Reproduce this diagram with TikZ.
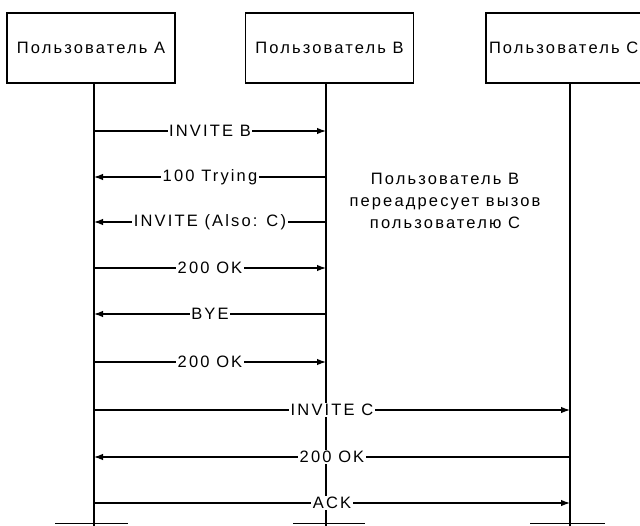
\documentclass[tikz,border=0pt]{standalone}
\usepackage{fontspec}
\setmainfont{Liberation Sans}
\newfontfamily\lblfont[LetterSpace=13]{Liberation Sans}
\usetikzlibrary{arrows.meta}
\begin{document}
\begin{tikzpicture}[x=1pt,y=-1pt,
  font=\lblfont\fontsize{16.5}{22}\selectfont,
  actor/.style={draw, line width=1.3pt, minimum width=168pt, minimum height=70pt, inner sep=0pt},
  life/.style={line width=1.3pt},
  msg/.style={line width=1.2pt, -{Latex[length=9pt,width=6.5pt]}},
  mlabel/.style={fill=white, inner sep=1.5pt},
  stub/.style={line width=1.3pt}]
\useasboundingbox (0,0) rectangle (640,525);
\clip (0,0) rectangle (640,525);
\fill[white] (0,0) rectangle (640,525);

\node[actor] (A) at (91,48) {Пользователь A};
\node[actor] (B) at (329.5,48) {Пользователь B};
\node[actor] (C) at (570,48) {\makebox[162pt][l]{Пользователь C}};

\coordinate (At) at (94,83);  \coordinate (Ab) at (94,526);
\coordinate (Bt) at (326,83); \coordinate (Bb) at (326,526);
\coordinate (Ct) at (570,83); \coordinate (Cb) at (570,526);
\draw[life] (At) -- (Ab);
\draw[life] (Bt) -- (Bb);
\draw[life] (Ct) -- (Cb);

\node[align=center] (note) at (445,201) {Пользователь B\\переадресует вызов\\пользователю C};

\coordinate (a1) at (94,131); \coordinate (b1) at (326,131);
\coordinate (a2) at (94,177); \coordinate (b2) at (326,177);
\coordinate (a3) at (94,222); \coordinate (b3) at (326,222);
\coordinate (a4) at (94,268); \coordinate (b4) at (326,268);
\coordinate (a5) at (94,314); \coordinate (b5) at (326,314);
\coordinate (a6) at (94,362); \coordinate (b6) at (326,362);
\coordinate (a7) at (94,410); \coordinate (c7) at (570,410);
\coordinate (a8) at (94,457); \coordinate (c8) at (570,457);
\coordinate (a9) at (94,503); \coordinate (c9) at (570,503);

\draw[msg] (a1) -- node[mlabel] (l1) {INVITE B} (b1);
\draw[msg] (b2) -- node[mlabel] (l2) {100 Trying} (a2);
\draw[msg] (b3) -- node[mlabel] (l3) {INVITE (Also: C)} (a3);
\draw[msg] (a4) -- node[mlabel] (l4) {200 OK} (b4);
\draw[msg] (b5) -- node[mlabel] (l5) {BYE} (a5);
\draw[msg] (a6) -- node[mlabel] (l6) {200 OK} (b6);
\draw[msg] (a7) -- node[mlabel] (l7) {INVITE C} (c7);
\draw[msg] (c8) -- node[mlabel] (l8) {200 OK} (a8);
\draw[msg] (a9) -- node[mlabel] (l9) {ACK} (c9);

\coordinate (sa1) at (55,523.5);  \coordinate (sa2) at (128,523.5);
\coordinate (sb1) at (293,523.5); \coordinate (sb2) at (365,523.5);
\coordinate (sc1) at (530,523.5); \coordinate (sc2) at (605,523.5);
\draw[stub] (sa1) -- (sa2);
\draw[stub] (sb1) -- (sb2);
\draw[stub] (sc1) -- (sc2);
\end{tikzpicture}
\end{document}
